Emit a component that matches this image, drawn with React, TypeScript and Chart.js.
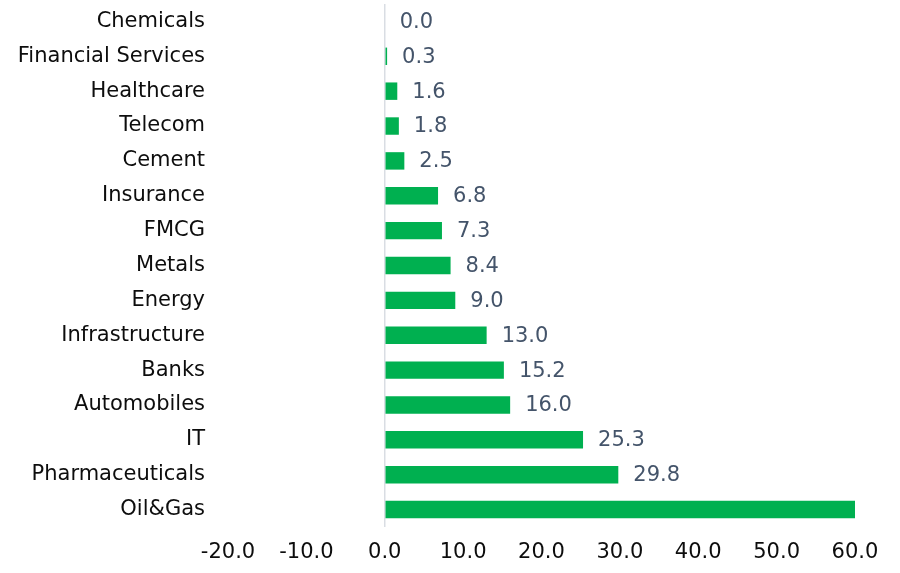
import React, { useEffect, useRef } from "react";
import { Chart, registerables } from "chart.js";

Chart.register(...registerables);

const categories = [
  "Chemicals",
  "Financial Services",
  "Healthcare",
  "Telecom",
  "Cement",
  "Insurance",
  "FMCG",
  "Metals",
  "Energy",
  "Infrastructure",
  "Banks",
  "Automobiles",
  "IT",
  "Pharmaceuticals",
  "Oil&Gas",
];

const values = [0.0, 0.3, 1.6, 1.8, 2.5, 6.8, 7.3, 8.4, 9.0, 13.0, 15.2, 16.0, 25.3, 29.8, 63.0];

const xMin = -20;
const xMax = 60;
const xStep = 10;

const FONT = "'DejaVu Sans', sans-serif";

const valueLabelPlugin = {
  id: "valueLabels",
  afterDatasetsDraw(chart: any) {
    const { ctx } = chart;
    const meta = chart.getDatasetMeta(0);
    ctx.save();
    ctx.font = `21px ${FONT}`;
    ctx.fillStyle = "#44546A";
    ctx.textAlign = "left";
    ctx.textBaseline = "middle";
    meta.data.forEach((bar: any, i: number) => {
      const v = values[i];
      if (v > xMax) return;
      ctx.fillText(v.toFixed(1), bar.x + 15, bar.y + 1);
    });
    ctx.restore();
  },
};

export default function App() {
  const canvasRef = useRef<HTMLCanvasElement | null>(null);

  useEffect(() => {
    if (!canvasRef.current) return;
    const chart = new Chart(canvasRef.current, {
      type: "bar",
      data: {
        labels: categories,
        datasets: [
          {
            data: values,
            backgroundColor: "#00B050",
            borderWidth: 0,
            barPercentage: 0.5,
            categoryPercentage: 1,
          },
        ],
      },
      options: {
        indexAxis: "y",
        animation: false,
        responsive: false,
        devicePixelRatio: 1,
        layout: { padding: { top: 4, right: 45, left: 0, bottom: 0 } },
        plugins: {
          legend: { display: false },
          title: { display: false },
          tooltip: { enabled: false },
        },
        scales: {
          x: {
            min: xMin,
            max: xMax,
            border: { display: false },
            grid: {
              drawTicks: false,
              lineWidth: 1.5,
              color: (c: any) => (c.tick && c.tick.value === 0 ? "#D9DDE3" : "rgba(0,0,0,0)"),
            },
            ticks: {
              stepSize: xStep,
              padding: 13,
              color: "#0d0d0d",
              font: { family: FONT, size: 21 },
              maxRotation: 0,
              callback: (v: any) => Number(v).toFixed(1),
            },
            afterFit: (s: any) => {
              s.height = 46;
            },
          },
          y: {
            border: { display: false },
            grid: { display: false, drawTicks: false },
            ticks: {
              padding: 23,
              color: "#0d0d0d",
              font: { family: FONT, size: 21 },
              autoSkip: false,
            },
            afterFit: (s: any) => {
              s.width = 228;
              s.paddingTop = 0;
              s.paddingBottom = 0;
            },
          },
        },
      },
      plugins: [valueLabelPlugin],
    });
    return () => chart.destroy();
  }, []);

  return (
    <div style={{ position: "fixed", left: 0, top: 0, width: 900, height: 573, background: "#fff" }}>
      <canvas ref={canvasRef} width={900} height={573} />
    </div>
  );
}
